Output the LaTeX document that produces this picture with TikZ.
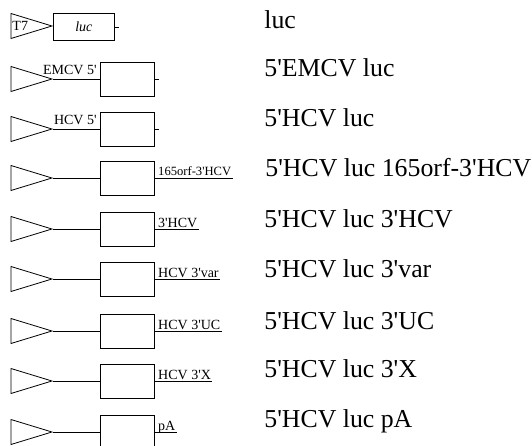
\documentclass[tikz,border=0pt]{standalone}
\usepackage{fontspec}
\setmainfont{Liberation Serif}[Ligatures=TeXOff]
\usetikzlibrary{shapes.geometric}

\begin{document}
\begin{tikzpicture}[x=1pt, y=-1pt, line width=0.8pt,
  prom/.style={draw, isosceles triangle, isosceles triangle stretches,
    shape border rotate=0, inner sep=0pt, minimum width=25pt, minimum height=41pt, anchor=apex},
  gene/.style={draw, rectangle, inner sep=0pt, minimum width=54pt, minimum height=34pt, anchor=west},
  tag/.style={font=\fontsize{14}{16}\selectfont, inner sep=1pt},
  constr/.style={font=\fontsize{25.8}{30}\selectfont, inner sep=0pt, anchor=base west}]
  \useasboundingbox (0,0) rectangle (532,446);

  % T7 luc
  \node[prom] (p1) at (53,26) {};
  \node[tag, anchor=west] (t7) at ([xshift=0.5pt]p1.west) {T7};
  \node[gene, minimum width=61pt, minimum height=27pt] (b1) at ([yshift=-1pt]p1.apex) {};
  \node[tag] (g1) at (b1) {\itshape luc};
  \coordinate (e1) at ([xshift=4pt]b1.east);
  \draw (b1.east) -- (e1);

  % promoter and luc box, rows 2--9
  \foreach \i/\y in {2/79, 3/129, 4/178, 5/229, 6/279, 7/331, 8/381, 9/432} {
    \node[prom] (p\i) at (53,\y) {};
    \node[gene] (b\i) at (100,\y) {};
    \draw (p\i.apex) -- (b\i.west);
  }

  % 5' leaders
  \node[tag, anchor=south east] (l2) at ([xshift=-2pt, yshift=3pt]b2.west) {EMCV 5'};
  \node[tag, anchor=south east] (l3) at ([xshift=-2pt, yshift=3pt]b3.west) {HCV 5'};
  \coordinate (e2) at ([xshift=4pt]b2.east);
  \coordinate (e3) at ([xshift=4pt]b3.east);
  \draw (b2.east) -- (e2);
  \draw (b3.east) -- (e3);

  % 3' ends
  \node[tag, anchor=base west, font=\fontsize{12.6}{15}\selectfont] (r4) at ([xshift=2pt, yshift=2pt]b4.east) {165orf-3'HCV};
  \draw (b4.east) -- (b4.east -| r4.east);
  \foreach \i/\t in {5/3'HCV, 6/HCV 3'var, 7/HCV 3'UC, 8/HCV 3'X, 9/pA} {
    \node[tag, anchor=base west] (r\i) at ([xshift=2pt, yshift=2pt]b\i.east) {\t};
    \draw (b\i.east) -- (b\i.east -| r\i.east);
  }

  % construct names
  \node[constr] (n1) at (264,29) {luc};
  \node[constr] (n2) at (264,77) {5'EMCV luc};
  \node[constr] (n3) at (264,127) {5'HCV luc};
  \node[constr] (n4) at (265,177) {5'HCV luc 165orf-3'HCV};
  \node[constr] (n5) at (264,227) {5'HCV luc 3'HCV};
  \node[constr] (n6) at (264,277) {5'HCV luc 3'var};
  \node[constr] (n7) at (264,329) {5'HCV luc 3'UC};
  \node[constr] (n8) at (264,377) {5'HCV luc 3'X};
  \node[constr] (n9) at (264,427) {5'HCV luc pA};
\end{tikzpicture}
\end{document}
